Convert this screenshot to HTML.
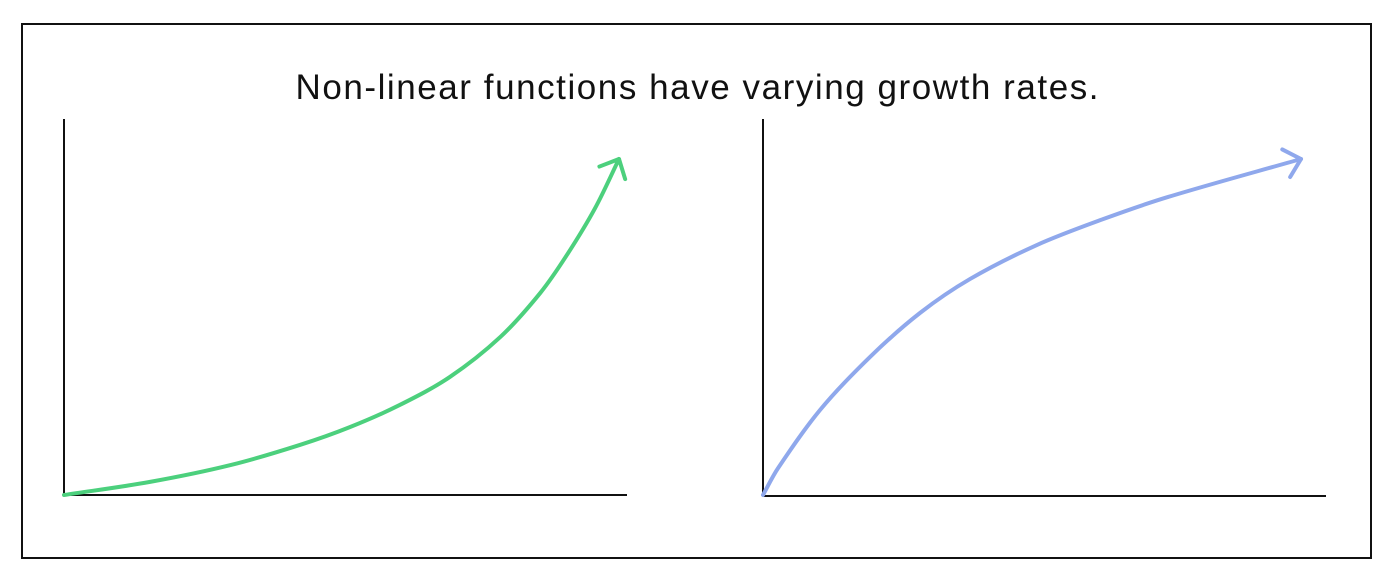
<!DOCTYPE html>
<html><head><meta charset="utf-8"><style>
html,body{margin:0;padding:0;background:#fff;}
svg{display:block;}
</style></head><body>
<svg width="1400" height="584" xmlns="http://www.w3.org/2000/svg">
<rect x="22" y="24" width="1349" height="534" fill="#fff" stroke="#111" stroke-width="2"/>
<text x="697" y="99" text-anchor="middle" font-family="Liberation Sans, sans-serif" font-size="35" textLength="803" lengthAdjust="spacing" fill="#111">Non-linear functions have varying growth rates.</text>
<g id="left">
<line x1="64" y1="119" x2="64" y2="495" stroke="#111" stroke-width="2"/>
<line x1="64" y1="495" x2="627" y2="495" stroke="#111" stroke-width="2"/>
</g>
<g id="right">
<line x1="763" y1="119" x2="763" y2="496" stroke="#111" stroke-width="2"/>
<line x1="763" y1="496" x2="1326" y2="496" stroke="#111" stroke-width="2"/>
</g>
</svg>
<script>
const greenX=[0,1.55,3.0,4.25,5.15,6.05,6.95,7.86,8.58,9.06,9.57,10];
const greenY=[0,0.39,0.89,1.49,2.02,2.68,3.51,4.70,6.01,7.14,8.54,10];
const blueX=[0,0.28,1.06,1.99,2.92,3.85,5.09,6.32,7.53,10];
const blueY=[0,0.80,2.53,4.11,5.42,6.43,7.44,8.21,8.87,10];
const NS='http://www.w3.org/2000/svg';
function makeScale(d0,d1,r0,r1){return v=>r0+(v-d0)/(d1-d0)*(r1-r0);}
function pathFrom(pts){
  const n=pts.length,tan=[];
  for(let i=0;i<n;i++){
    const a=pts[Math.max(i-1,0)],b=pts[Math.min(i+1,n-1)];
    const dx=b[0]-a[0],dy=b[1]-a[1],len=Math.hypot(dx,dy)||1;
    tan.push([dx/len,dy/len]);
  }
  let d='M'+pts[0][0]+','+pts[0][1];
  for(let i=0;i<n-1;i++){
    const p1=pts[i],p2=pts[i+1];
    const L=Math.hypot(p2[0]-p1[0],p2[1]-p1[1])/3;
    const c1=[p1[0]+tan[i][0]*L,p1[1]+tan[i][1]*L];
    const c2=[p2[0]-tan[i+1][0]*L,p2[1]-tan[i+1][1]*L];
    d+=' C'+c1+' '+c2+' '+p2;
  }
  return d;
}
function draw(parentId,xs,ys,sx,sy,color,name){
  const g=document.getElementById(parentId);
  const pts=xs.map((x,i)=>[sx(x),sy(ys[i])]);
  const p=document.createElementNS(NS,'path');
  p.setAttribute('d',pathFrom(pts));
  p.setAttribute('fill','none');p.setAttribute('stroke',color);p.setAttribute('stroke-width','4');p.setAttribute('stroke-linecap','round');
  
  
  g.appendChild(p);
  const n=pts.length,t=pts[n-1],q=pts[n-2];
  const ang=Math.atan2(t[1]-q[1],t[0]-q[0]);
  const L=21,sp=0.75;
  const a1=[t[0]-L*Math.cos(ang-sp),t[1]-L*Math.sin(ang-sp)];
  const a2=[t[0]-L*Math.cos(ang+sp),t[1]-L*Math.sin(ang+sp)];
  const h=document.createElementNS(NS,'path');
  h.setAttribute('d','M'+a1+' L'+t+' L'+a2);
  h.setAttribute('fill','none');h.setAttribute('stroke',color);h.setAttribute('stroke-width','4');h.setAttribute('stroke-linecap','round');h.setAttribute('stroke-linejoin','round');
  
  
  g.appendChild(h);
}
draw('left',greenX,greenY,makeScale(0,10,64,619),makeScale(0,10,495,159),'#4cd07d','exponential');
draw('right',blueX,blueY,makeScale(0,10,763,1301),makeScale(0,10,495,159),'#8fa8ec','logarithmic');
</script>
</body></html>
